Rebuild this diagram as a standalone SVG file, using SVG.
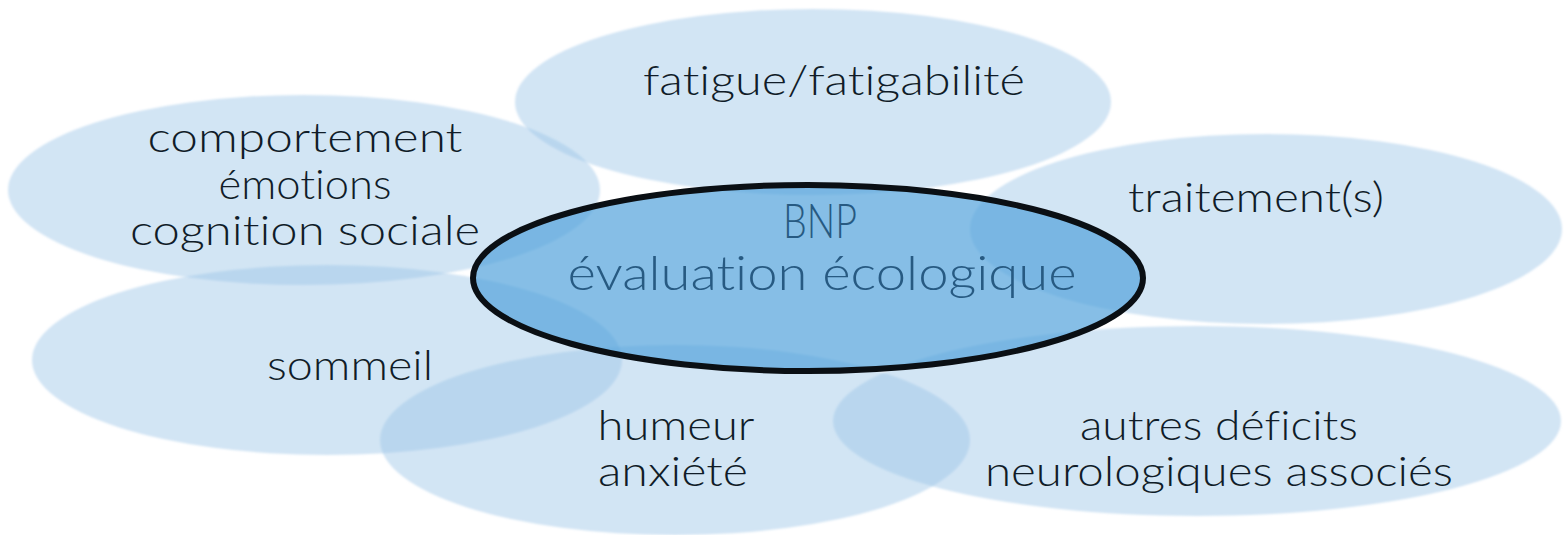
<svg xmlns="http://www.w3.org/2000/svg" width="1564" height="535" viewBox="0 0 1564 535">
<defs>
<filter id="soft" x="-5%" y="-10%" width="110%" height="120%">
<feGaussianBlur stdDeviation="1.2"/>
</filter>
<style>
.bubble{fill:#9cc6e6;fill-opacity:0.45;filter:url(#soft);}
.lbl{font-family:"Lato","DejaVu Sans","Liberation Sans",sans-serif;font-weight:300;font-size:42px;fill:#101c28;text-anchor:middle;font-variant-ligatures:none;}
.core{fill:#52a2db;fill-opacity:0.7;stroke:#0a0f14;stroke-width:6;}
.coreTxt{font-family:"Lato","DejaVu Sans","Liberation Sans",sans-serif;font-weight:300;font-size:47px;fill:#275a82;text-anchor:middle;font-variant-ligatures:none;}
</style>
</defs>
<rect width="1564" height="535" fill="#ffffff"/>
<g id="node-fatigue">
<ellipse class="bubble" cx="813" cy="102" rx="298" ry="93"/>
<text class="lbl" x="834" y="95" textLength="382" lengthAdjust="spacingAndGlyphs">fatigue/fatigabilité</text>
</g>
<g id="node-comportement">
<ellipse class="bubble" cx="304" cy="190" rx="296" ry="95"/>
<text class="lbl" x="305" y="152" textLength="315" lengthAdjust="spacingAndGlyphs">comportement</text>
<text class="lbl" x="305" y="199" textLength="173" lengthAdjust="spacingAndGlyphs">émotions</text>
<text class="lbl" x="305" y="245" textLength="350" lengthAdjust="spacingAndGlyphs">cognition sociale</text>
</g>
<g id="node-traitement">
<ellipse class="bubble" cx="1266" cy="229" rx="296" ry="95"/>
<text class="lbl" x="1256" y="212" textLength="256" lengthAdjust="spacingAndGlyphs">traitement(s)</text>
</g>
<g id="node-sommeil">
<ellipse class="bubble" cx="327" cy="360" rx="295" ry="95"/>
<text class="lbl" x="350" y="380" textLength="166" lengthAdjust="spacingAndGlyphs">sommeil</text>
</g>
<g id="node-humeur">
<ellipse class="bubble" cx="675" cy="440" rx="295" ry="95"/>
<text class="lbl" x="676" y="440" textLength="157" lengthAdjust="spacingAndGlyphs">humeur</text>
<text class="lbl" x="673" y="486" textLength="150" lengthAdjust="spacingAndGlyphs">anxiété</text>
</g>
<g id="node-autres">
<ellipse class="bubble" cx="1197" cy="421" rx="364" ry="95"/>
<text class="lbl" x="1219" y="440" textLength="278" lengthAdjust="spacingAndGlyphs">autres déficits</text>
<text class="lbl" x="1219" y="486" textLength="468" lengthAdjust="spacingAndGlyphs">neurologiques associés</text>
</g>
<g id="node-bnp">
<ellipse class="core" cx="808" cy="278" rx="335" ry="93"/>
<text class="coreTxt" x="820" y="238" textLength="74" lengthAdjust="spacingAndGlyphs">BNP</text>
<text class="coreTxt" x="822" y="290" textLength="509" lengthAdjust="spacingAndGlyphs">évaluation écologique</text>
</g>
</svg>
